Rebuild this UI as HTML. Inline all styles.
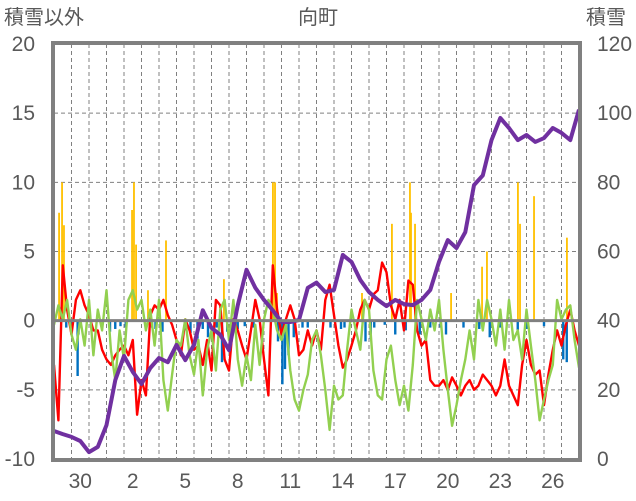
<!DOCTYPE html>
<html><head><meta charset="utf-8">
<style>
html,body{margin:0;padding:0;background:#fff;}
svg{display:block;font-family:"Liberation Sans","Noto Sans CJK JP",sans-serif;}
</style></head>
<body>
<svg id="chart" width="636" height="501" viewBox="0 0 636 501" xmlns="http://www.w3.org/2000/svg">
<text x="318" y="24" font-size="20" fill="#595959" text-anchor="middle">向町</text>
<text x="4" y="24" font-size="20" fill="#595959">積雪以外</text>
<text x="586" y="24" font-size="20" fill="#595959">積雪</text>
<g id="grid"></g>
<g id="bars"></g>
<g id="lines"></g>
<g id="axes"></g>
</svg>
<script>
const leftTicks = [20, 15, 10, 5, 0, -5, -10];
const rightTicks = [120, 100, 80, 60, 40, 20, 0];
const xLabels = ["30", "2", "5", "8", "11", "14", "17", "20", "23", "26"];
const xLabelDays = [1, 4, 7, 10, 13, 16, 19, 22, 25, 28];
const redVals = [-3.2,-7.2,4.0,0.8,-1.0,1.5,2.2,1.1,0.4,-0.7,-0.7,-2.1,-2.8,-3.2,-2.5,-2.1,-1.8,-2.5,-1.4,-6.8,-4.3,-5.4,0.4,1.1,0.8,1.5,0.4,-0.3,-1.4,-2.5,0.1,-0.7,-2.1,-1.8,-3.2,-1.4,-3.6,1.5,1.1,-2.8,-3.6,0.1,-0.7,-1.8,-2.8,-0.7,1.5,0.1,-2.8,-5.4,4.0,0.8,-1.0,0.1,1.1,0.1,-2.5,-2.1,-0.7,-1.8,-0.7,-2.1,1.5,2.6,0.4,-1.8,-3.4,-2.8,-1.8,-0.7,0.8,1.5,0.8,1.9,2.2,4.2,3.5,1.1,0.1,1.5,-0.7,2.9,2.6,-0.7,-1.8,-1.4,-4.3,-4.7,-4.7,-4.3,-5.0,-4.1,-4.7,-5.4,-4.7,-4.3,-5.0,-4.7,-3.9,-4.3,-4.7,-5.4,-4.7,-2.8,-4.7,-5.4,-6.1,-3.2,-1.4,-3.2,-3.9,-3.6,-6.1,-3.9,-2.1,-0.7,-1.8,-0.3,0.8,-0.7,-1.8];
const greenVals = [-0.3,1.1,0.1,1.5,-1.0,-2.1,0.1,-1.8,1.5,-2.5,0.8,-0.7,2.2,-2.1,-4.3,-0.7,-2.8,1.5,2.2,0.8,1.5,-0.7,0.8,-1.8,1.5,-4.3,-6.5,-3.9,-1.4,-1.8,0.1,-2.5,-3.9,-1.4,-5.4,-2.1,-0.7,-3.6,0.8,1.5,-1.4,1.5,-2.8,-4.7,-2.5,-4.3,-0.3,-3.2,0.1,1.5,0.8,-0.7,-1.4,-0.3,-3.6,-5.7,-6.5,-5.0,-3.9,-1.4,-0.7,-2.5,-5.0,-7.9,-4.7,-5.7,-5.4,-2.1,0.8,-0.7,-2.1,1.5,0.8,-3.6,-5.4,-5.7,-2.8,-1.8,-4.3,-6.1,-4.7,-6.5,-3.2,1.5,0.1,-1.4,0.8,-0.7,1.5,-2.1,-5.0,-7.6,-6.1,-4.3,-2.8,-0.7,-2.8,1.5,-0.7,1.5,0.1,-1.8,0.8,-2.1,1.5,-1.4,-0.7,-2.8,0.8,-1.8,-4.3,-7.2,-5.7,-4.3,-3.2,1.5,0.1,0.8,1.1,-1.4,-3.4];
const snowVals = [8.1,7.2,6.4,5.2,2.0,3.5,9.8,22.8,29.8,25.2,21.7,26.3,29.2,28,33,28.6,33,43,37.9,35.9,31.5,44.5,54.7,49.5,46,43,39.6,39.6,40.2,49.5,51,48.3,48.9,59,57,51.8,48.3,46,44.2,46,44.8,44.5,46,48.9,57,63.3,61,65.6,79.2,82,92.2,98.6,95.7,92.2,93.7,91.7,92.8,95.7,94.3,92.2,101];
const yellowDays = [0.29,0.46,0.57,4.46,4.57,4.69,5.37,6.4,9.71,12.51,12.63,12.74,17.6,19.31,20.34,20.4,20.63,22.69,24.46,24.74,26.51,26.63,27.43,29.31];
const yellowVals = [7.8,10,6.9,8,10,5.5,2.2,5.8,3,10,10,2,2,7,10,7.8,7,2,3.9,5,10,7,9,6];
const blueDays = [0.7,1.0,1.35,1.4,1.5,3.2,3.5,3.8,4.1,5.6,5.8,6.2,7.5,7.8,8.2,8.5,8.8,9.3,9.6,9.9,10.1,10.5,10.9,11.4,12.8,13.05,13.2,13.4,13.7,14.2,14.5,15.8,16.4,16.6,17.8,18.1,18.3,18.9,19.5,20.1,20.9,21.5,22.1,22.4,23.4,24.3,24.9,25.5,26.5,27.0,28.0,29.1,29.3];
const blueVals = [-0.5,-0.6,-4,-1,-0.5,-0.8,-0.6,-0.4,-0.5,-0.5,-0.6,-0.8,-0.7,-0.9,-1.3,-0.6,-1.2,-0.5,-3,-0.8,-0.7,-0.6,-0.4,-0.5,-1.5,-4.6,-3.5,-2.5,-1.2,-0.5,-0.5,-0.5,-0.6,-0.5,-1.5,-1.3,-0.5,-0.3,-1,-0.7,-1,-0.5,-0.5,-1,-0.5,-0.6,-1.2,-0.5,-0.8,-0.6,-0.4,-2.8,-3];

const X0 = 54, X1 = 579, Y0 = 44, Y1 = 459, NDAYS = 30;
const xDay = d => X0 + (X1 - X0) * d / NDAYS;
const yL = v => Y1 - (v + 10) / 30 * (Y1 - Y0);
const yR = v => Y1 - v / 120 * (Y1 - Y0);
const NS = "http://www.w3.org/2000/svg";
function mk(parent, tag, attrs) {
  const e = document.createElementNS(NS, tag);
  for (const k in attrs) e.setAttribute(k, attrs[k]);
  parent.appendChild(e);
  return e;
}
const grid = document.getElementById('grid');
const bars = document.getElementById('bars');
const lines = document.getElementById('lines');
const axes = document.getElementById('axes');
const svg = document.getElementById('chart');

leftTicks.forEach(v => {
  if (v !== 20 && v !== 0 && v !== -10) {
    const g = mk(grid, 'line', {x1: X0, x2: X1, y1: yL(v), y2: yL(v), stroke: '#808080', 'stroke-width': 1, 'stroke-dasharray': '4,3'});
    
    
  }
  const t = mk(svg, 'text', {x: 35, y: yL(v) + 7, 'font-size': 21, fill: '#595959', 'text-anchor': 'end'});
  t.textContent = v;
  
  
});
rightTicks.forEach(v => {
  const t = mk(svg, 'text', {x: 597, y: yR(v) + 7, 'font-size': 21, fill: '#595959'});
  t.textContent = v;
  
  
});
for (let k = 1; k < NDAYS; k++) {
  const g = mk(grid, 'line', {x1: xDay(k), x2: xDay(k), y1: Y0, y2: Y1, stroke: '#808080', 'stroke-width': 1, 'stroke-dasharray': '4,3'});
  
  
}
xLabels.forEach((l, i) => {
  const t = mk(svg, 'text', {x: xDay(xLabelDays[i] + 0.5), y: 488, 'font-size': 21, fill: '#595959', 'text-anchor': 'middle'});
  t.textContent = l;
  
  
});
yellowDays.forEach((d, i) => {
  const y = yL(yellowVals[i]);
  const r = mk(bars, 'rect', {x: xDay(d) - 0.9, y: y, width: 1.8, height: yL(0) - y, fill: '#ffc000'});
  
  
});
blueDays.forEach((d, i) => {
  const y = yL(blueVals[i]);
  const r = mk(bars, 'rect', {x: xDay(d) - 1.2, y: yL(0), width: 2.4, height: y - yL(0), fill: '#0070c0'});
  
  
});
const zl = mk(axes, 'line', {x1: X0, x2: X1, y1: yL(0), y2: yL(0), stroke: '#808080', 'stroke-width': 3});


function series(vals, step, yf, color, w, name) {
  const pts = vals.map((v, i) => xDay(i * step).toFixed(1) + ',' + yf(v).toFixed(1)).join(' ');
  const p = mk(lines, 'polyline', {points: pts, fill: 'none', stroke: color, 'stroke-width': w, 'stroke-linejoin': 'round'});
  
  
}
series(redVals, 0.25, yL, '#ff0000', 2.4, 'red-line');
series(greenVals, 0.25, yL, '#92d050', 2.4, 'green-line');
series(snowVals, 0.5, yR, '#7030a0', 4, 'snow-depth-line');
const fr = mk(axes, 'rect', {x: X0 - 1, y: Y0 - 1, width: X1 - X0 + 2, height: Y1 - Y0 + 2, fill: 'none', stroke: '#808080', 'stroke-width': 4});


</script>
</body></html>
